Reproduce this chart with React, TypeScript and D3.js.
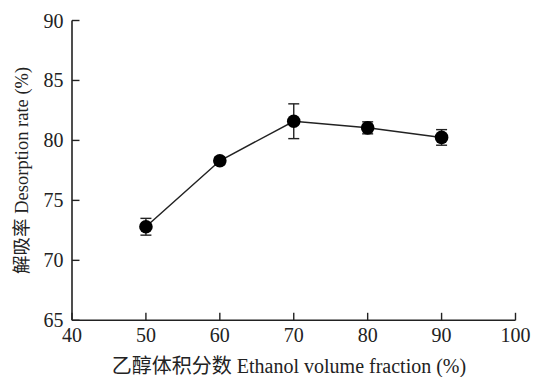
import React from "react";
import * as d3 from "d3";

const fractions = [50, 60, 70, 80, 90];
const rates = [72.8, 78.3, 81.6, 81.05, 80.25];
const errors = [0.7, 0.3, 1.45, 0.5, 0.65];
const xTicks = [40, 50, 60, 70, 80, 90, 100];
const yTicks = [65, 70, 75, 80, 85, 90];
const xTitle = "乙醇体积分数 Ethanol volume fraction (%)";
const yTitle = "解吸率 Desorption rate (%)";

const W = 533;
const H = 377;
const FONT = "'Liberation Serif', 'Times New Roman', 'Noto Sans CJK SC', serif";

export default function App() {
  const x = d3.scaleLinear().domain([40, 100]).range([72, 515.5]);
  const y = d3.scaleLinear().domain([65, 90]).range([320.3, 20.5]);
  const line = d3
    .line<number>()
    .x((_, i) => x(fractions[i]))
    .y((d) => y(d));
  const axisColor = "#222";
  return (
    <svg
      width={W}
      height={H}
      style={{ position: "absolute", left: 0, top: 0, background: "#fff" }}
      fontFamily={FONT}
    >
      {/* axes */}
      <line x1={x(40)} x2={x(40)} y1={y(90)} y2={y(65)} stroke={axisColor} strokeWidth={1.6} />
      <line x1={x(40)} x2={x(100)} y1={y(65)} y2={y(65)} stroke={axisColor} strokeWidth={1.6} />
      {yTicks.map((t) => (
        <g key={"y" + t}>
          <line x1={x(40)} x2={x(40) + 7.5} y1={y(t)} y2={y(t)} stroke={axisColor} strokeWidth={1.4} />
          <text x={x(40) - 8.5} y={y(t)} dy="0.35em" textAnchor="end" fontSize={20} fill="#222">
            {t}
          </text>
        </g>
      ))}
      {xTicks.map((t) => (
        <g key={"x" + t}>
          <line x1={x(t)} x2={x(t)} y1={y(65)} y2={y(65) - 7.5} stroke={axisColor} strokeWidth={1.4} />
          <text x={x(t)} y={342} textAnchor="middle" fontSize={20} fill="#222">
            {t}
          </text>
        </g>
      ))}
      {/* line */}
      <path d={line(rates) || ""} fill="none" stroke="#222" strokeWidth={1.5} />
      {/* error bars */}
      {rates.map((r, i) => {
        const cx = x(fractions[i]);
        return (
          <g key={"e" + i} stroke="#222" strokeWidth={1.4}>
            <line x1={cx} x2={cx} y1={y(r + errors[i])} y2={y(r - errors[i])} />
            <line x1={cx - 5.5} x2={cx + 5.5} y1={y(r + errors[i])} y2={y(r + errors[i])} />
            <line x1={cx - 5.5} x2={cx + 5.5} y1={y(r - errors[i])} y2={y(r - errors[i])} />
          </g>
        );
      })}
      {rates.map((r, i) => (
        <circle key={"c" + i} cx={x(fractions[i])} cy={y(r)} r={6.8} fill="#000" />
      ))}
      {/* titles */}
      <text x={289} y={373} textAnchor="middle" fontSize={20} fill="#222">
        {xTitle}
      </text>
      <text
        transform={`translate(27.5, ${(y(65) + y(90)) / 2}) rotate(-90)`}
        textAnchor="middle"
        fontSize={18.5}
        fill="#222"
      >
        {yTitle}
      </text>
    </svg>
  );
}
